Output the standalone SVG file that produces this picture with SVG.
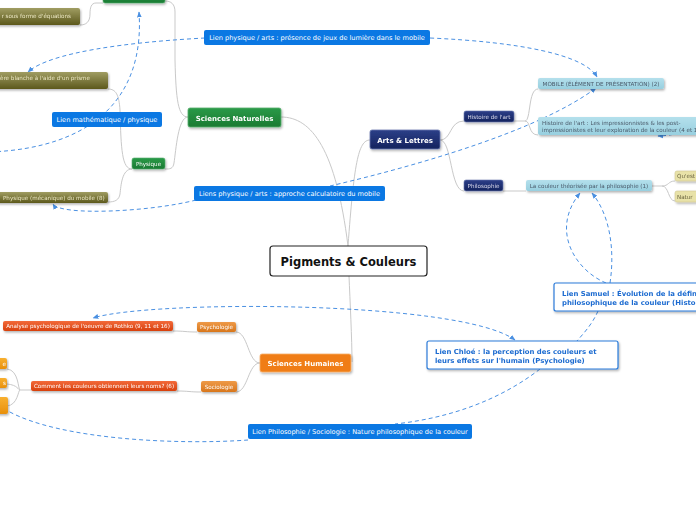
<svg xmlns="http://www.w3.org/2000/svg" width="696" height="520" viewBox="0 0 696 520">
<style>
text{font-family:"DejaVu Sans","Liberation Sans",sans-serif}
.c{fill:none;stroke:#c9c9c9;stroke-width:1}
.d{fill:none;stroke:#4a90e2;stroke-width:1;stroke-dasharray:4 3}
.blue{fill:#0b78e3}
.bt{fill:#fff;font-size:6.6px}
.sm{font-size:5.6px}
.st{fill:#fff;font-size:7px;font-weight:bold}
.lk{fill:#fff;stroke:#2b7bd9;stroke-width:1.2}
.lt{fill:#1c6bd0;font-size:6.9px;font-weight:bold}
</style>
<defs>
<linearGradient id="olive" x1="0" y1="0" x2="0" y2="1"><stop offset="0" stop-color="#a09d62"/><stop offset="1" stop-color="#5c581c"/></linearGradient>
<linearGradient id="green" x1="0" y1="0" x2="0" y2="1"><stop offset="0" stop-color="#2a9a48"/><stop offset="1" stop-color="#1a7a32"/></linearGradient>
<linearGradient id="navy" x1="0" y1="0" x2="0" y2="1"><stop offset="0" stop-color="#2c3f88"/><stop offset="1" stop-color="#14235e"/></linearGradient>
<linearGradient id="lb" x1="0" y1="0" x2="0" y2="1"><stop offset="0" stop-color="#b4e0ec"/><stop offset="1" stop-color="#98cfdf"/></linearGradient>
<linearGradient id="red" x1="0" y1="0" x2="0" y2="1"><stop offset="0" stop-color="#f26a3a"/><stop offset="1" stop-color="#d8400e"/></linearGradient>
<linearGradient id="or" x1="0" y1="0" x2="0" y2="1"><stop offset="0" stop-color="#ee9a48"/><stop offset="1" stop-color="#d8761c"/></linearGradient>
<linearGradient id="yo" x1="0" y1="0" x2="0" y2="1"><stop offset="0" stop-color="#f8b030"/><stop offset="1" stop-color="#e8900c"/></linearGradient>
<filter id="sh" x="-10%" y="-20%" width="120%" height="160%"><feDropShadow dx="1" dy="1.5" stdDeviation="1" flood-color="#000" flood-opacity="0.3"/></filter>
<marker id="ar" viewBox="0 0 10 10" refX="9" refY="5" markerWidth="6" markerHeight="6" orient="auto-start-reverse"><path d="M0,1 L10,5 L0,9 z" fill="#4a90e2"/></marker>
</defs>

<g id="connectors">
<path class="c" d="M348,246 C336,150 312,117 281,117"/>
<path class="c" d="M348,246 C354,165 358,140 370,140"/>
<path class="c" d="M349,276 C350,300 352,340 352,362"/>
<path class="c" d="M188,117 C178,117 176,100 175,60 L175,12 C175,4 171,1 165,1"/>
<path class="c" d="M188,117 C178,117 176,150 174,163 C173,169 170,169 165,169"/>
<path class="c" d="M103,3 L96,3 C91,3 90,8 90,14 C90,22 86,25 80,25"/>
<path class="c" d="M132,169 C122,169 121,150 120,110 C119,95 116,89 108,89"/>
<path class="c" d="M132,169 C122,169 121,185 120,194 C119,200 115,202 108,202"/>
<path class="c" d="M440,140 C452,140 449,121 464,121"/>
<path class="c" d="M440,140 C452,140 450,191 464,191"/>
<path class="c" d="M514,121 L525,121 C531,121 528,89 538,89"/>
<path class="c" d="M525,121 C531,121 528,135 538,135"/>
<path class="c" d="M503,191 L526,191"/>
<path class="c" d="M652,186 L662,186 C669,186 668,181 675,181"/>
<path class="c" d="M662,186 C669,186 668,201 675,201"/>
<path class="c" d="M260,363 C248,363 248,332 236,332"/>
<path class="c" d="M260,363 C248,363 248,392 236,392"/>
<path class="c" d="M197,332 C185,332 185,331 173,331"/>
<path class="c" d="M201,392 C189,392 189,391 177,391"/>
<path class="c" d="M31,390 L20,390 C18,390 19,370 7,369"/>
<path class="c" d="M20,390 C18,390 18,385 7,384"/>
<path class="c" d="M20,390 C18,390 18,405 7,406"/>

<path class="d" marker-end="url(#ar)" d="M-10,152 C90,148 145,100 139,12"/>
<path class="d" marker-end="url(#ar)" d="M205,38 C130,42 50,52 28,72"/>
<path class="d" marker-end="url(#ar)" d="M430,38 C520,42 585,55 597,77"/>
<path class="d" marker-end="url(#ar)" d="M196,200 C150,212 60,216 53,204"/>
<path class="d" marker-end="url(#ar)" d="M330,186 C420,165 540,130 596,88"/>
<path class="d" marker-end="url(#ar)" d="M700,127 C685,132 670,136 658,136"/>
<path class="d" marker-end="url(#ar)" d="M606,283 C575,270 550,230 580,193"/>
<path class="d" marker-end="url(#ar)" d="M610,283 C615,250 610,215 592,193"/>
<path class="d" d="M598,311 C592,325 582,335 577,341"/>
<path class="d" marker-start="url(#ar)" marker-end="url(#ar)" d="M515,340 C460,300 150,300 93,318"/>
<path class="d" d="M540,369 C500,400 450,418 395,424"/>
<path class="d" d="M248,440 C180,445 60,440 8,411"/>
</g>

<g id="center"><rect x="270" y="246" width="157" height="30" rx="3" fill="#fff" stroke="#222" stroke-width="1.2"/><text x="348.5" y="265.5" text-anchor="middle" font-size="11.5" font-weight="bold" fill="#111">Pigments &amp; Couleurs</text></g>

<g id="sciences-naturelles" filter="url(#sh)"><rect x="188" y="108" width="93" height="19" rx="2" fill="url(#green)" stroke="#58b070" stroke-width="0.8"/><text class="st" x="234.5" y="120.5" text-anchor="middle">Sciences Naturelles</text></g>
<g id="arts-lettres" filter="url(#sh)"><rect x="370" y="130" width="70" height="19" rx="2" fill="url(#navy)" stroke="#6a7ab0" stroke-width="0.8"/><text class="st" x="405" y="142.5" text-anchor="middle">Arts &amp; Lettres</text></g>
<g id="sciences-humaines" filter="url(#sh)"><rect x="260" y="354" width="91" height="18" rx="2" fill="#f07d12" stroke="#f8b070" stroke-width="0.8"/><text class="st" x="305.5" y="366" text-anchor="middle">Sciences Humaines</text></g>

<g id="top-green" filter="url(#sh)"><rect x="103" y="-8" width="62" height="11" rx="2" fill="url(#green)" stroke="#58b070" stroke-width="0.6"/></g>
<g id="equations" filter="url(#sh)"><rect x="-4" y="8" width="84" height="17" rx="2" fill="url(#olive)"/><text x="71" y="18" text-anchor="end" class="sm" fill="#ece8c4">r sous forme d'équations</text></g>
<g id="prisme" filter="url(#sh)"><rect x="-4" y="72" width="112" height="17" rx="2" fill="url(#olive)"/><text x="0" y="80" class="sm" fill="#ece8c4">ère blanche à l'aide d'un prisme</text></g>
<g id="physique" filter="url(#sh)"><rect x="132" y="158" width="33" height="11" rx="2" fill="url(#green)" stroke="#58b070" stroke-width="0.6"/><text x="148.5" y="165.5" text-anchor="middle" class="sm" fill="#fff">Physique</text></g>
<g id="mecanique" filter="url(#sh)"><rect x="-4" y="192" width="112" height="11" rx="2" fill="url(#olive)"/><text x="3" y="199.5" class="sm" fill="#ece8c4">Physique (mécanique) du mobile (8)</text></g>

<g id="histoire-art" filter="url(#sh)"><rect x="464" y="111" width="50" height="11" rx="2" fill="url(#navy)" stroke="#6a7ab0" stroke-width="0.6"/><text x="489" y="118.5" text-anchor="middle" class="sm" fill="#dde">Histoire de l'art</text></g>
<g id="philosophie" filter="url(#sh)"><rect x="464" y="180" width="39" height="11" rx="2" fill="url(#navy)" stroke="#6a7ab0" stroke-width="0.6"/><text x="483.5" y="187.5" text-anchor="middle" class="sm" fill="#dde">Philosophie</text></g>
<g id="mobile" filter="url(#sh)"><rect x="538" y="78" width="126" height="11" rx="2" fill="url(#lb)"/><text x="601" y="85.5" text-anchor="middle" class="sm" fill="#4a5a6a">MOBILE (ÉLÉMENT DE PRÉSENTATION) (2)</text></g>
<g id="impressionnistes" filter="url(#sh)"><rect x="538" y="117" width="170" height="18" rx="2" fill="url(#lb)"/><text x="542" y="124.5" class="sm" fill="#4a5a6a">Histoire de l'art : Les impressionnistes &amp; les post-</text><text x="542" y="131.5" class="sm" fill="#4a5a6a">impressionistes et leur exploration de la couleur (4 et 1</text></g>
<g id="couleur-theorisee" filter="url(#sh)"><rect x="526" y="180" width="126" height="11" rx="2" fill="url(#lb)"/><text x="589" y="187.5" text-anchor="middle" class="sm" fill="#4a5a6a">La couleur théorisée par la philosophie (1)</text></g>
<g id="quest" filter="url(#sh)"><rect x="675" y="171" width="40" height="10" rx="2" fill="#e8e2a8" stroke="#d0c890" stroke-width="0.6"/><text x="677" y="178" class="sm" fill="#6a6440">Qu'est</text></g>
<g id="nature" filter="url(#sh)"><rect x="675" y="191" width="40" height="11" rx="2" fill="#e8e2a8" stroke="#d0c890" stroke-width="0.6"/><text x="677" y="198.5" class="sm" fill="#6a6440">Natur</text></g>

<g id="psychologie" filter="url(#sh)"><rect x="197" y="322" width="39" height="10" rx="2" fill="url(#or)"/><text x="216.5" y="329" text-anchor="middle" class="sm" fill="#fff">Psychologie</text></g>
<g id="sociologie" filter="url(#sh)"><rect x="201" y="381" width="36" height="11" rx="2" fill="url(#or)"/><text x="219" y="388.5" text-anchor="middle" class="sm" fill="#fff">Sociologie</text></g>
<g id="rothko" filter="url(#sh)"><rect x="3" y="321" width="170" height="10" rx="2" fill="url(#red)"/><text x="88" y="328" text-anchor="middle" class="sm" fill="#fff">Analyse psychologique de l'oeuvre de Rothko (9, 11 et 16)</text></g>
<g id="noms" filter="url(#sh)"><rect x="31" y="381" width="146" height="10" rx="2" fill="url(#red)"/><text x="104" y="388" text-anchor="middle" class="sm" fill="#fff">Comment les couleurs obtiennent leurs noms? (6)</text></g>
<g id="or1" filter="url(#sh)"><rect x="-10" y="358" width="17" height="11" rx="2" fill="url(#yo)"/><text x="6" y="365.5" text-anchor="end" class="sm" fill="#fff">e</text></g>
<g id="or2" filter="url(#sh)"><rect x="-10" y="378" width="17" height="10" rx="2" fill="url(#yo)"/><text x="6" y="385" text-anchor="end" class="sm" fill="#fff">s</text></g>
<g id="or3" filter="url(#sh)"><rect x="-10" y="397" width="18" height="17" rx="2" fill="url(#yo)"/></g>

<g id="lien-math-physique"><rect class="blue" x="52" y="112" width="110" height="15" rx="2"/><text class="bt" x="107" y="121.8" text-anchor="middle" font-size="7.2">Lien mathématique / physique</text></g>
<g id="lien-presence"><rect class="blue" x="204" y="30" width="226" height="15" rx="2"/><text class="bt" x="317" y="39.8" text-anchor="middle">Lien physique / arts : présence de jeux de lumière dans le mobile</text></g>
<g id="lien-calculatoire"><rect class="blue" x="194" y="186" width="191" height="15" rx="2"/><text class="bt" x="289.5" y="195.8" text-anchor="middle">Liens physique / arts : approche calculatoire du mobile</text></g>
<g id="lien-philo-socio"><rect class="blue" x="248" y="424" width="224" height="15" rx="2"/><text class="bt" x="360" y="433.8" text-anchor="middle">Lien Philosophie / Sociologie : Nature philosophique de la couleur</text></g>
<g id="lien-chloe" filter="url(#sh)"><rect class="lk" x="427" y="341" width="191" height="28" rx="2"/><text class="lt" x="435" y="353.5">Lien Chloé : la perception des couleurs et</text><text class="lt" x="435" y="362.5">leurs effets sur l'humain (Psychologie)</text></g>
<g id="lien-samuel" filter="url(#sh)"><rect class="lk" x="554" y="283" width="170" height="28" rx="2"/><text class="lt" x="562" y="295.5">Lien Samuel : Évolution de la défin</text><text class="lt" x="562" y="304.5">philosophique de la couleur (Histo</text></g>
</svg>
